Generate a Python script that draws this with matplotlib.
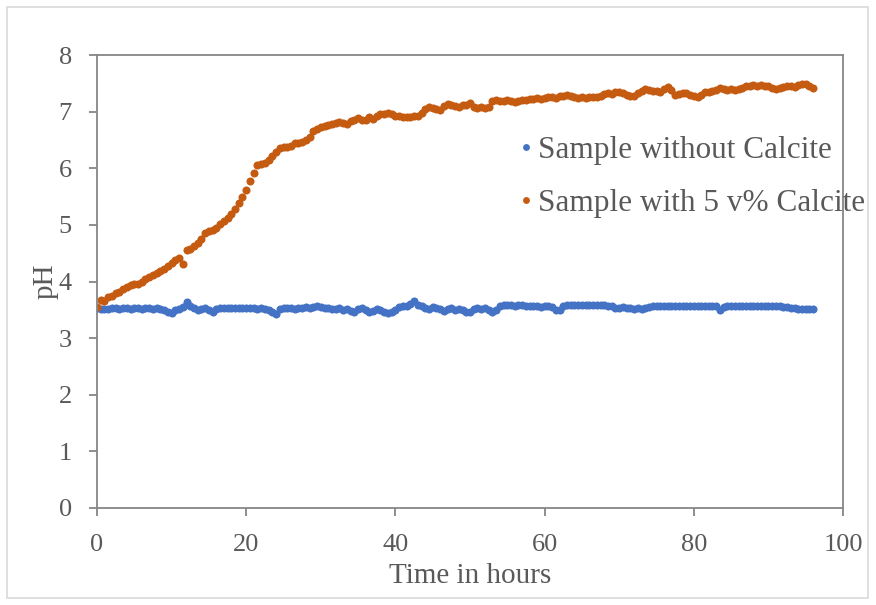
import matplotlib.pyplot as plt
from matplotlib.patches import Rectangle
import numpy as np

# czas pomiaru co 0.5 h
czas = np.arange(0, 96.5, 0.5)

ph_bez_kalcytu = [
    3.53, 3.52, 3.51, 3.52, 3.53, 3.53, 3.52, 3.53, 3.53, 3.52,
    3.53, 3.53, 3.52, 3.53, 3.53, 3.52, 3.53, 3.52, 3.50, 3.46,
    3.44, 3.50, 3.52, 3.55, 3.64, 3.56, 3.53, 3.50, 3.52, 3.53,
    3.50, 3.47, 3.52, 3.53, 3.53, 3.54, 3.53, 3.53, 3.54, 3.53,
    3.53, 3.54, 3.53, 3.52, 3.53, 3.52, 3.50, 3.47, 3.42, 3.52,
    3.53, 3.54, 3.53, 3.52, 3.53, 3.54, 3.55, 3.54, 3.55, 3.56,
    3.55, 3.53, 3.54, 3.52, 3.51, 3.53, 3.50, 3.52, 3.48, 3.46,
    3.51, 3.54, 3.50, 3.46, 3.48, 3.52, 3.49, 3.46, 3.44, 3.47,
    3.50, 3.55, 3.56, 3.57, 3.60, 3.65, 3.58, 3.57, 3.54, 3.52,
    3.55, 3.53, 3.51, 3.48, 3.52, 3.54, 3.50, 3.52, 3.49, 3.46,
    3.47, 3.52, 3.54, 3.51, 3.53, 3.50, 3.47, 3.50, 3.57, 3.58,
    3.58, 3.58, 3.57, 3.58, 3.58, 3.57, 3.56, 3.57, 3.56, 3.55,
    3.56, 3.56, 3.55, 3.50, 3.49, 3.56, 3.59, 3.59, 3.59, 3.59,
    3.59, 3.59, 3.59, 3.59, 3.59, 3.59, 3.58, 3.57, 3.56, 3.54,
    3.53, 3.55, 3.54, 3.53, 3.52, 3.53, 3.52, 3.53, 3.55, 3.56,
    3.56, 3.56, 3.56, 3.56, 3.56, 3.56, 3.56, 3.56, 3.56, 3.56,
    3.56, 3.56, 3.56, 3.56, 3.56, 3.56, 3.56, 3.50, 3.55, 3.56,
    3.56, 3.56, 3.56, 3.56, 3.56, 3.56, 3.56, 3.56, 3.56, 3.56,
    3.56, 3.56, 3.56, 3.56, 3.55, 3.55, 3.53, 3.53, 3.52, 3.51,
    3.51, 3.51, 3.51,
]

ph_z_kalcytem = [
    3.55, 3.68, 3.66, 3.72, 3.75, 3.80, 3.82, 3.86, 3.90, 3.93,
    3.95, 3.96, 4.00, 4.04, 4.08, 4.12, 4.15, 4.18, 4.22, 4.28,
    4.32, 4.38, 4.42, 4.31, 4.55, 4.58, 4.62, 4.68, 4.75, 4.85,
    4.90, 4.91, 4.95, 5.02, 5.06, 5.12, 5.20, 5.28, 5.38, 5.50,
    5.62, 5.78, 5.92, 6.05, 6.08, 6.10, 6.15, 6.22, 6.28, 6.35,
    6.37, 6.38, 6.40, 6.44, 6.45, 6.47, 6.50, 6.55, 6.65, 6.70,
    6.72, 6.74, 6.76, 6.79, 6.80, 6.82, 6.80, 6.78, 6.83, 6.86,
    6.88, 6.86, 6.85, 6.90, 6.87, 6.92, 6.95, 6.96, 6.97, 6.95,
    6.93, 6.92, 6.90, 6.91, 6.90, 6.92, 6.93, 6.98, 7.05, 7.08,
    7.06, 7.05, 7.03, 7.10, 7.14, 7.12, 7.10, 7.09, 7.11, 7.12,
    7.15, 7.08, 7.07, 7.08, 7.07, 7.09, 7.18, 7.20, 7.19, 7.18,
    7.20, 7.19, 7.17, 7.18, 7.21, 7.20, 7.22, 7.23, 7.24, 7.22,
    7.24, 7.25, 7.26, 7.24, 7.27, 7.28, 7.30, 7.27, 7.25, 7.24,
    7.25, 7.24, 7.26, 7.25, 7.26, 7.28, 7.31, 7.33, 7.32, 7.34,
    7.35, 7.33, 7.30, 7.27, 7.28, 7.33, 7.36, 7.40, 7.39, 7.37,
    7.36, 7.35, 7.40, 7.43, 7.38, 7.30, 7.32, 7.33, 7.33, 7.30,
    7.27, 7.25, 7.30, 7.34, 7.35, 7.37, 7.39, 7.41, 7.40, 7.39,
    7.40, 7.39, 7.40, 7.42, 7.45, 7.46, 7.47, 7.46, 7.47, 7.46,
    7.45, 7.42, 7.40, 7.42, 7.44, 7.46, 7.45, 7.43, 7.47, 7.49,
    7.48, 7.46, 7.42,
]

etykiety = ["Sample without Calcite", "Sample with 5 v% Calcite"]

szary = "#595959"
plt.rcParams['font.family'] = ['Liberation Serif', 'DejaVu Serif']

fig = plt.figure(figsize=(8.76, 6.05), dpi=100)
ax = fig.add_axes([97 / 876, 1 - 508 / 605, 746 / 876, 453 / 605])

ax.plot(czas, ph_bez_kalcytu, 'o', color='#4472C4', markersize=5.8, markeredgewidth=0, label=etykiety[0])
ax.plot(czas, ph_z_kalcytem, 'o', color='#C55A11', markersize=5.8, markeredgewidth=0, label=etykiety[1])

ax.set_xlim(0, 100)
ax.set_ylim(0, 8)
ax.set_xticks(range(0, 101, 20))
ax.set_yticks(range(0, 9))

for s in ax.spines.values():
    s.set_color('#868686')
    s.set_linewidth(1.3)
ax.tick_params(direction='out', length=6, width=1.3, color='#868686',
               labelsize=19, labelcolor=szary)
ax.tick_params(axis='x', pad=13)
ax.tick_params(axis='y', pad=12)

ax.set_xlabel("Time in hours", fontsize=21, color=szary, labelpad=5)
ax.set_ylabel("pH", fontsize=21, color=szary, labelpad=0)

leg = ax.legend(loc='upper left', bbox_to_anchor=(0.5496, 0.848), frameon=False,
                fontsize=22.5, labelcolor=szary, markerscale=0.85,
                handlelength=0.4, handletextpad=0.2, labelspacing=0.75,
                borderaxespad=0)

# jasna ramka wokół całego rysunku
fig.patches.append(Rectangle((7 / 876, 7 / 605), 861 / 876, 591 / 605, transform=fig.transFigure,
                             fill=False, edgecolor='#d9d9d9', linewidth=1.2))

fig.savefig("out.png", dpi=100)
